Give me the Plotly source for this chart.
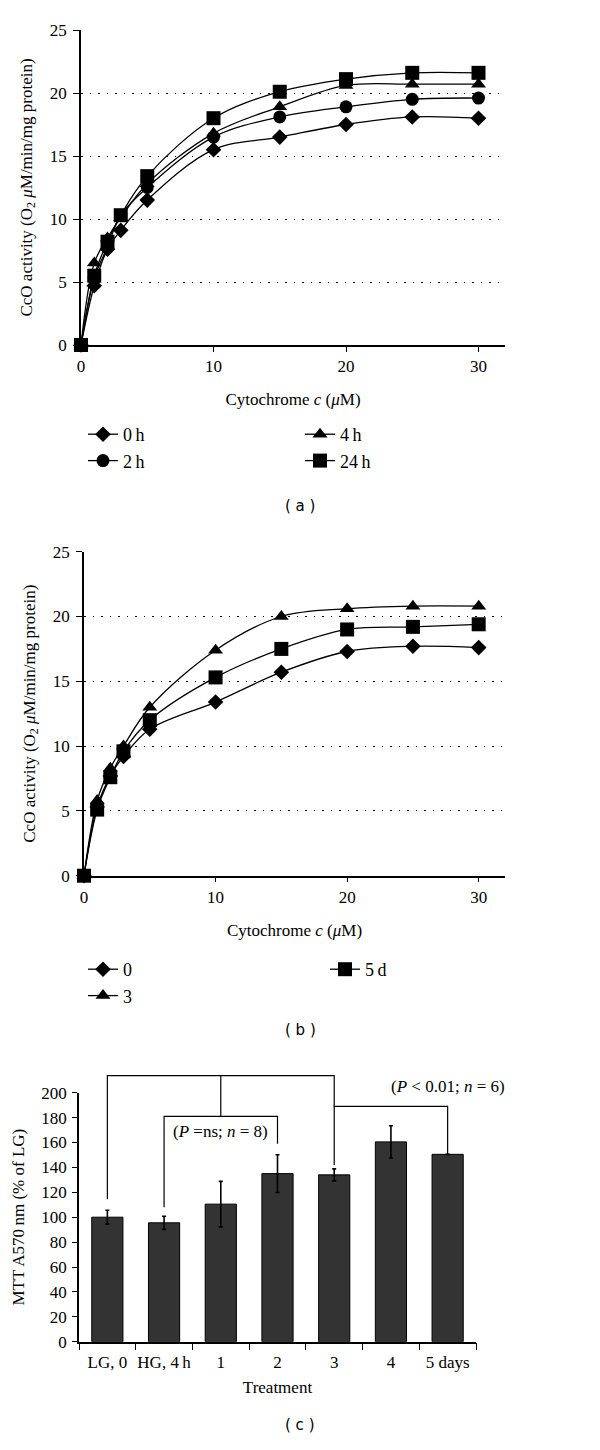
import plotly.graph_objects as go

# ---------------- data ----------------
conc = [0, 1, 2, 3, 5, 10, 15, 20, 25, 30]

a_0h = [0, 4.7, 7.6, 9.1, 11.5, 15.5, 16.5, 17.5, 18.1, 18.0]
a_2h = [0, 5.3, 7.8, 10.3, 12.5, 16.5, 18.1, 18.9, 19.5, 19.6]
a_4h = [0, 6.5, 8.5, 10.1, 12.8, 16.8, 18.9, 20.6, 20.7, 20.7]
a_24h = [0, 5.5, 8.2, 10.3, 13.4, 18.0, 20.1, 21.1, 21.6, 21.6]

b_0 = [0, 5.3, 7.7, 9.2, 11.3, 13.4, 15.7, 17.3, 17.7, 17.6]
b_3 = [0, 5.8, 8.3, 10.0, 13.0, 17.4, 20.0, 20.6, 20.8, 20.8]
b_5d = [0, 5.1, 7.6, 9.6, 12.0, 15.3, 17.5, 19.0, 19.2, 19.4]

treat = ["LG, 0", "HG, 4\u2009h", "1", "2", "3", "4", "5 days"]
mtt = [100, 95.5, 110.5, 135, 134, 160.5, 150.5]
mtt_err = [5.6, 5.3, 18.3, 15.2, 4.8, 13, None]

# significance brackets (category index, value)
br_x = [[0, 0, 4, 4], [2, 2], [1, 1, 3, 3], [4, 4, 6, 6]]
br_y = [[114.5, 213.7, 213.7, 189], [213.7, 181], [108, 181, 181, 159], [142, 189, 189, 151]]
labels_c = ["(<i>P</i> =ns; <i>n</i> = 8)", "(<i>P</i> < 0.01; <i>n</i> = 6)"]
labels_c_x = [2, 6]
labels_c_y = [168.5, 205]

# ---------------- layout helpers ----------------
W, H = 600, 1450
OFF = 8  # page body margin
def fx(p):
    return (p - OFF) / W
def fy(p):
    return 1 - (p - OFF) / H

SERIF = "Liberation Serif"
SANS = "DejaVu Sans"
TICKF = dict(family=SERIF, size=17, color="black")
TITLEF = dict(family=SERIF, size=17, color="black")

fig = go.Figure()

def line_trace(name, ys, sym, size, xa, ya, leg):
    return go.Scatter(
        x=conc, y=ys, name=name, mode="lines+markers",
        line=dict(color="black", width=1.3, shape="spline", smoothing=1),
        marker=dict(symbol=sym, size=size, color="black"),
        xaxis=xa, yaxis=ya, legend=leg, cliponaxis=False,
    )

# panel a (legend order: 0h, 4h / 2h, 24h)
fig.add_trace(line_trace("0\u2009h", a_0h, "diamond", 12, "x", "y", "legend"))
fig.add_trace(line_trace("4\u2009h", a_4h, "triangle-up", 13, "x", "y", "legend"))
fig.add_trace(line_trace("2\u2009h", a_2h, "circle", 13, "x", "y", "legend"))
fig.add_trace(line_trace("24\u2009h", a_24h, "square", 14, "x", "y", "legend"))

# panel b (legend order: 0, 5d / 3)
fig.add_trace(line_trace("0", b_0, "diamond", 12, "x2", "y2", "legend2"))
fig.add_trace(line_trace("5\u2009d", b_5d, "square", 14, "x2", "y2", "legend2"))
fig.add_trace(line_trace("3", b_3, "triangle-up", 13, "x2", "y2", "legend2"))

# panel c bars
fig.add_trace(go.Bar(
    x=treat, y=mtt, xaxis="x3", yaxis="y3", showlegend=False,
    marker=dict(color="#333333", line=dict(color="black", width=1)),
    error_y=dict(type="data", array=mtt_err, visible=True, color="black", thickness=1.6, width=2),
))

# brackets drawn on an extended (invisible) axis sharing the bar scale
for bx, by in zip(br_x, br_y):
    fig.add_trace(go.Scatter(
        x=[treat[i] for i in bx], y=by, mode="lines", xaxis="x3", yaxis="y4",
        line=dict(color="black", width=1.2), showlegend=False, hoverinfo="skip",
    ))

annotations = []
for t, xi, yv in zip(labels_c, labels_c_x, labels_c_y):
    # category axes take the serial index of the category for annotations
    annotations.append(dict(text=t, x=xi, y=yv, xref="x3", yref="y4",
                            showarrow=False, font=dict(family=SERIF, size=17, color="black")))

for lab, yp in [("( a )", 506), ("( b )", 1041), ("( c )", 1436)]:
    annotations.append(dict(text=lab, x=fx(300), y=fy(yp), xref="paper", yref="paper",
                            showarrow=False, font=dict(family=SANS, size=15, color="black")))

ytitle_ab = "CcO activity (O<sub>2</sub> <i>\u03bc</i>M/min/mg protein)"
xtitle_ab = "Cytochrome <i>c</i> (<i>\u03bc</i>M)"

def xax_line(dom, anchor):
    return dict(domain=dom, anchor=anchor, range=[0, 32], tickvals=[0, 10, 20, 30],
                showline=True, linecolor="black", linewidth=1.5, ticks="outside", ticklen=5,
                tickcolor="black", tickwidth=1.2, showgrid=False, zeroline=False,
                automargin=False,
                tickfont=TICKF, title=dict(text=xtitle_ab, font=TITLEF, standoff=18))

def yax_line(dom, anchor):
    return dict(domain=dom, anchor=anchor, range=[0, 25], dtick=5, tick0=0,
                showline=True, linecolor="black", linewidth=1.5, ticks="outside", ticklen=6,
                tickcolor="black", tickwidth=1.2, showgrid=True, gridcolor="black",
                gridwidth=1.3, griddash="1.5px,7px", zeroline=False, automargin=False,
                ticklabelstandoff=3,
                tickfont=TICKF, title=dict(text=ytitle_ab, font=TITLEF, standoff=13))

yc_bottom = fy(1341.7)
yc_top = fy(1092.7)
y4_top = yc_bottom + (yc_top - yc_bottom) * 216 / 200

LEGF = dict(family=SERIF, size=18, color="black")

fig.update_layout(
    width=W, height=H,
    margin=dict(l=0, r=0, t=0, b=0, autoexpand=False),
    paper_bgcolor="white", plot_bgcolor="rgba(0,0,0,0)",
    showlegend=True,
    xaxis=xax_line([fx(81), fx(505)], "y"),
    yaxis=yax_line([fy(345), fy(30)], "x"),
    xaxis2=xax_line([fx(84), fx(505)], "y2"),
    yaxis2=yax_line([fy(875.7), fy(551.7)], "x2"),
    xaxis3=dict(domain=[fx(79), fx(476)], anchor="y3", type="category",
                range=[-0.5, 6.5], showline=True, linecolor="black", linewidth=1.5,
                ticks="outside", tickson="boundaries", ticklen=7, tickcolor="black",
                tickwidth=1.2, showgrid=False, zeroline=False, tickfont=TICKF,
                tickangle=0, automargin=False, ticklabelstandoff=4,
                title=dict(text="Treatment", font=TITLEF, standoff=10)),
    yaxis3=dict(domain=[yc_bottom, yc_top], anchor="x3", range=[0, 200], dtick=20,
                showline=True, linecolor="black", linewidth=1.5, ticks="outside",
                ticklen=5, tickcolor="black", tickwidth=1.2, showgrid=False,
                zeroline=False, tickfont=TICKF, automargin=False, ticklabelstandoff=2,
                title=dict(text="MTT A570\u2009nm (% of LG)", font=TITLEF, standoff=12)),
    yaxis4=dict(domain=[yc_bottom, y4_top], anchor="x3", range=[0, 216], visible=False,
                showgrid=False, zeroline=False, automargin=False),
    legend=dict(x=fx(83), y=fy(416), xanchor="left", yanchor="top", orientation="h",
                entrywidth=172, entrywidthmode="pixels", traceorder="normal",
                font=LEGF, bgcolor="rgba(0,0,0,0)"),
    legend2=dict(x=fx(83), y=fy(951), xanchor="left", yanchor="top", orientation="h",
                 entrywidth=197, entrywidthmode="pixels", traceorder="normal",
                 font=LEGF, bgcolor="rgba(0,0,0,0)"),
    annotations=annotations,
    bargap=0.45,
)

fig.write_html("out.html")
